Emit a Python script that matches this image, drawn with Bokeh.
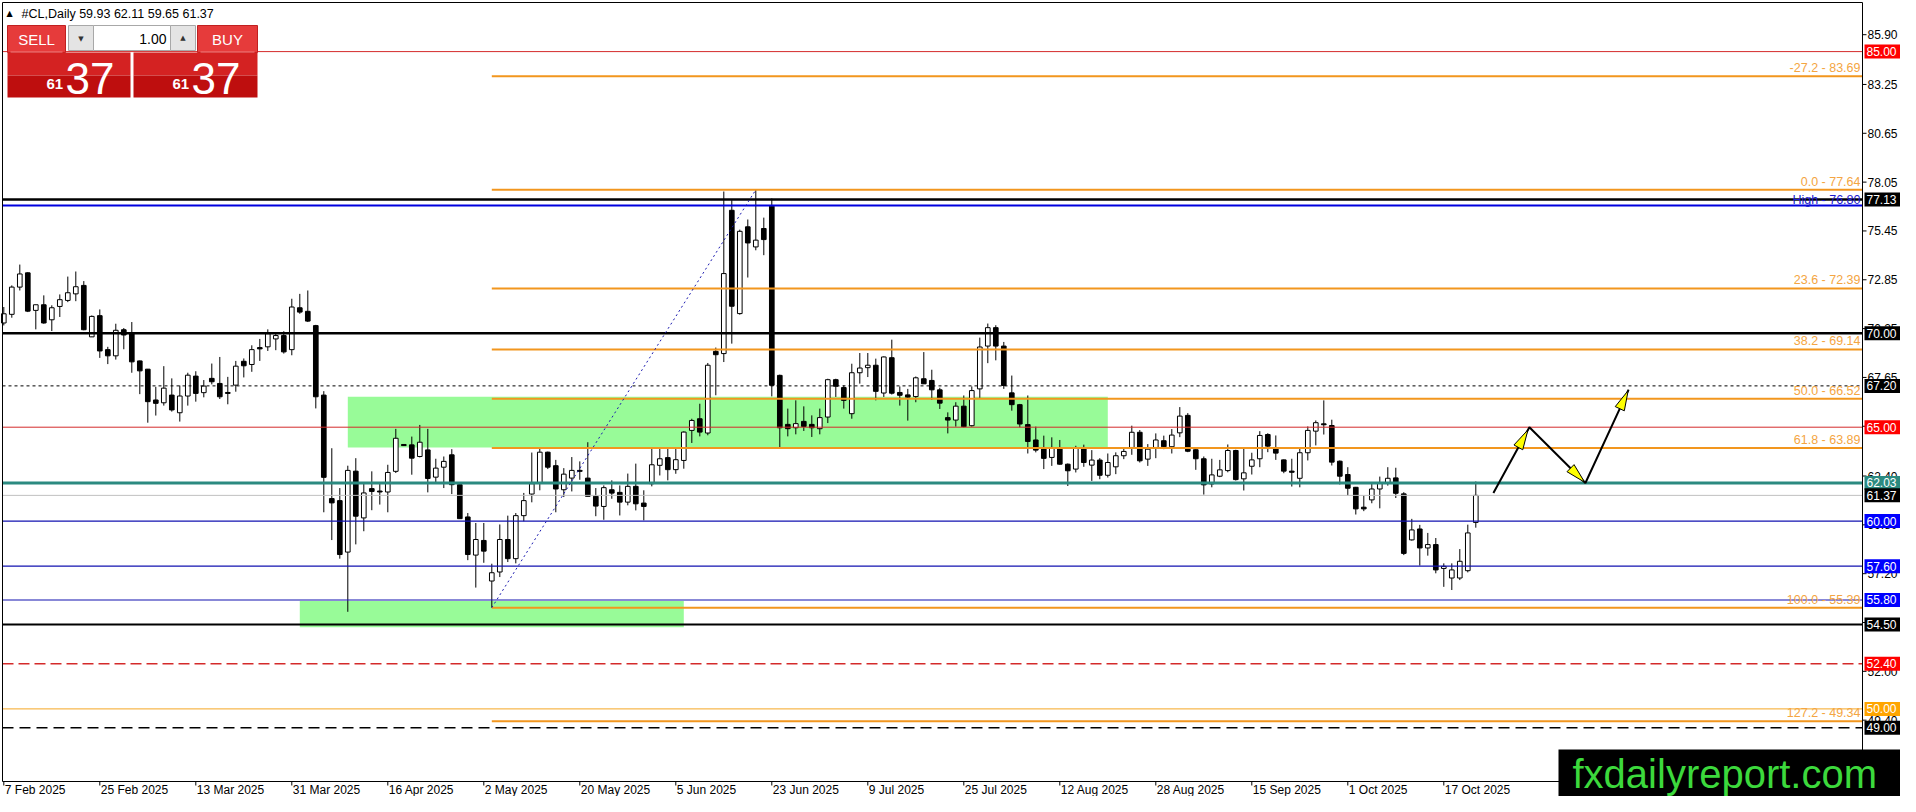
import math
from bokeh.plotting import figure
from bokeh.models import Range1d
from bokeh.embed import file_html
from bokeh.resources import INLINE
from bokeh.core.properties import value

# ---------------- data ----------------
opens = [70.55, 71.01, 72.46, 73.22, 71.22, 71.52, 70.72, 71.43, 71.75, 72.10, 72.55, 69.81, 70.94, 69.13, 68.80,
         70.19, 69.98, 68.53, 68.09, 66.45, 66.30, 66.71, 65.77, 66.66, 67.72, 66.84, 67.60, 67.33, 66.85, 67.24,
         68.51, 68.34, 69.24, 69.28, 69.70, 69.88, 69.13, 71.36, 71.17, 70.41, 66.71, 61.20, 61.09, 58.35, 62.66,
         60.17, 61.73, 61.60, 61.55, 62.65, 64.08, 64.06, 63.44, 63.79, 62.34, 62.87, 63.53, 61.94, 60.22, 58.19,
         58.97, 56.81, 57.29, 59.02, 58.00, 60.29, 61.44, 62.03, 63.67, 62.95, 61.67, 62.29, 62.70, 62.29, 61.32,
         60.78, 61.67, 61.53, 61.01, 61.85, 60.96, 61.99, 62.97, 63.38, 62.74, 63.23, 64.83, 65.45, 64.69, 69.04,
         68.92, 76.55, 71.05, 75.67, 74.60, 75.58, 76.77, 67.76, 65.15, 64.97, 65.31, 65.15, 64.92, 65.54, 67.53,
         67.11, 65.72, 67.90, 68.17, 68.30, 66.82, 68.70, 66.85, 66.72, 66.63, 67.58, 67.49, 66.99, 65.51, 65.38,
         66.12, 65.08, 67.04, 69.32, 70.30, 69.32, 66.83, 66.20, 65.14, 64.32, 63.87, 63.39, 63.87, 63.03, 62.77,
         63.87, 62.98, 63.25, 62.44, 62.89, 63.48, 63.92, 64.73, 63.30, 63.92, 64.28, 63.96, 64.70, 65.63, 63.80,
         63.32, 61.98, 62.39, 62.69, 63.76, 62.25, 62.92, 63.32, 64.61, 63.85, 63.26, 62.66, 62.28, 63.64, 64.79,
         65.18, 65.09, 63.19, 62.48, 61.80, 60.74, 61.13, 61.71, 62.02, 62.30, 61.45, 59.00, 59.58, 58.57, 58.75,
         57.48, 56.97, 56.97, 57.36, 59.93]
highs = [71.40, 72.55, 73.66, 73.25, 71.52, 72.02, 71.49, 72.07, 73.02, 73.29, 72.78, 70.95, 71.27, 69.28, 70.51,
         70.28, 70.60, 68.55, 68.10, 67.15, 68.25, 67.60, 67.22, 67.90, 67.98, 67.51, 68.39, 68.74, 67.68, 68.53,
         68.66, 69.36, 69.70, 70.21, 70.05, 70.11, 71.84, 72.10, 72.28, 70.45, 66.92, 63.88, 61.76, 62.95, 63.35,
         61.99, 62.65, 62.06, 63.00, 64.91, 64.10, 64.50, 65.12, 64.91, 63.32, 63.44, 63.83, 62.03, 60.43, 59.90,
         59.90, 57.73, 59.82, 60.29, 60.43, 61.50, 63.65, 63.88, 63.70, 63.26, 62.82, 63.41, 63.18, 64.20, 61.76,
         61.90, 62.17, 61.90, 62.53, 63.06, 61.64, 63.89, 63.89, 63.89, 63.86, 64.78, 65.45, 66.25, 68.42, 69.24,
         77.55, 77.09, 75.52, 76.06, 77.64, 76.16, 77.18, 67.80, 65.99, 66.43, 66.11, 65.63, 65.99, 67.58, 67.58,
         67.23, 68.38, 68.95, 68.95, 68.65, 68.77, 69.66, 67.17, 67.04, 67.70, 69.00, 68.06, 67.10, 65.79, 66.33,
         66.69, 67.17, 69.77, 70.52, 70.43, 69.54, 67.75, 66.24, 66.69, 65.03, 64.55, 64.46, 64.32, 63.07, 64.01,
         64.07, 63.78, 63.35, 63.60, 63.66, 63.92, 65.08, 64.85, 64.10, 64.67, 64.55, 64.90, 66.07, 65.75, 63.82,
         63.44, 63.32, 63.26, 64.08, 63.80, 63.90, 63.64, 64.79, 64.68, 64.56, 63.28, 63.32, 63.85, 65.04, 65.36,
         66.43, 65.40, 63.23, 62.87, 61.82, 61.36, 62.02, 62.37, 62.87, 62.84, 61.54, 60.12, 59.80, 59.37, 59.10,
         57.75, 57.75, 58.51, 59.81, 62.11]
lows = [70.42, 70.83, 72.28, 71.13, 70.21, 70.51, 70.12, 70.87, 71.66, 71.71, 70.16, 69.81, 68.69, 68.36, 68.60,
        69.15, 67.90, 66.76, 65.24, 65.62, 66.15, 65.83, 65.30, 66.15, 66.36, 66.59, 67.28, 66.50, 66.22, 66.89,
        67.65, 67.95, 68.53, 69.06, 69.10, 68.92, 68.83, 71.04, 70.60, 66.00, 60.47, 58.99, 58.00, 55.17, 58.76,
        59.46, 60.58, 60.88, 60.47, 62.56, 64.00, 62.47, 63.39, 61.53, 61.99, 61.76, 61.44, 60.13, 57.92, 56.46,
        57.78, 55.39, 57.02, 57.82, 57.75, 59.99, 61.00, 61.64, 62.77, 60.47, 61.28, 61.58, 62.20, 61.32, 60.26,
        60.07, 61.19, 60.30, 60.84, 60.57, 60.04, 61.85, 62.43, 62.17, 62.52, 62.79, 64.16, 64.51, 64.57, 66.70,
        68.47, 69.45, 70.99, 72.97, 74.42, 74.16, 66.64, 63.94, 64.51, 64.62, 64.80, 64.48, 64.62, 65.22, 66.61,
        65.99, 65.45, 67.32, 67.67, 66.43, 66.61, 66.74, 66.15, 65.35, 66.33, 67.31, 66.45, 65.97, 64.67, 65.03,
        64.99, 65.03, 66.56, 68.41, 68.56, 67.04, 65.88, 64.99, 63.60, 63.66, 62.77, 62.94, 63.00, 61.87, 62.59,
        62.89, 62.14, 62.23, 62.32, 62.50, 63.30, 63.53, 63.12, 62.94, 63.35, 63.83, 63.60, 64.47, 63.67, 62.73,
        61.41, 61.80, 62.34, 62.60, 62.16, 61.63, 62.48, 62.87, 63.67, 63.26, 62.55, 61.84, 61.80, 63.23, 64.03,
        64.61, 62.96, 61.95, 61.36, 60.35, 60.53, 60.95, 60.68, 61.89, 61.23, 58.19, 58.96, 57.63, 58.16, 57.22,
        56.50, 56.33, 56.86, 57.27, 59.65]
closes = [71.04, 72.46, 73.16, 71.18, 71.52, 70.55, 71.36, 71.79, 72.16, 72.48, 70.19, 70.90, 69.06, 68.80, 70.16,
          69.91, 68.48, 68.00, 66.36, 66.27, 67.08, 65.92, 66.66, 67.77, 66.80, 67.19, 67.42, 66.62, 66.80, 68.25,
          68.27, 69.13, 69.17, 69.98, 69.88, 69.01, 71.40, 71.13, 70.65, 66.62, 62.33, 60.97, 58.22, 62.70, 60.26,
          61.50, 61.58, 61.55, 62.59, 64.41, 64.02, 63.35, 64.20, 62.27, 62.82, 63.18, 61.94, 60.13, 58.22, 59.02,
          58.40, 57.25, 59.02, 58.00, 60.29, 61.09, 61.99, 63.67, 62.87, 61.71, 62.50, 62.70, 62.65, 61.32, 60.80,
          61.78, 61.49, 61.01, 61.85, 60.92, 60.78, 63.00, 63.32, 62.74, 63.27, 64.74, 65.36, 64.74, 68.30, 68.86,
          73.18, 71.44, 75.43, 74.81, 74.96, 74.99, 67.23, 64.97, 64.92, 65.19, 65.04, 64.97, 65.51, 67.53, 67.18,
          66.43, 67.90, 68.15, 68.30, 66.91, 68.74, 66.81, 66.70, 66.60, 67.63, 67.31, 66.99, 66.28, 65.38, 66.12,
          65.03, 66.95, 69.27, 70.30, 69.32, 67.22, 66.20, 65.17, 64.24, 63.78, 63.34, 63.92, 63.03, 62.68, 63.87,
          63.12, 63.25, 62.44, 63.12, 63.48, 63.71, 64.73, 63.21, 63.83, 64.32, 63.96, 64.58, 65.59, 63.72, 63.32,
          61.93, 62.46, 62.73, 63.76, 62.21, 62.57, 63.26, 64.56, 63.99, 63.62, 62.66, 62.60, 63.64, 64.83, 65.24,
          65.13, 63.14, 62.39, 61.75, 60.65, 60.65, 61.71, 62.02, 62.28, 61.48, 58.28, 59.53, 58.57, 58.75, 57.40,
          57.59, 57.40, 57.86, 59.37, 61.37]

date_tick_idx = [0, 12, 24, 36, 48, 60, 72, 84, 96, 108, 120, 132, 144, 156, 168, 180]
date_tick_labels = ["7 Feb 2025", "25 Feb 2025", "13 Mar 2025", "31 Mar 2025", "16 Apr 2025", "2 May 2025",
                    "20 May 2025", "5 Jun 2025", "23 Jun 2025", "9 Jul 2025", "25 Jul 2025", "12 Aug 2025",
                    "28 Aug 2025", "15 Sep 2025", "1 Oct 2025", "17 Oct 2025"]
price_ticks = [85.90, 83.25, 80.65, 78.05, 75.45, 72.85, 70.25, 67.65, 65.05, 62.40, 59.80, 57.20, 54.60,
               52.00, 49.40, 46.80]

level_prices = [85.00, 77.13, 76.80, 70.00, 67.20, 65.00, 62.03, 61.37, 60.00, 57.60, 55.80, 54.50, 52.40,
                50.00, 49.00]
tag_prices = [85.00, 77.13, 70.00, 67.20, 65.00, 62.03, 61.37, 60.00, 57.60, 55.80, 54.50, 52.40, 50.00, 49.00]

fib_start_idx, fib_end_idx = 61, 94
fib_low, fib_high = 55.39, 77.64
fib_pcts = [-27.2, 0.0, 23.6, 38.2, 50.0, 61.8, 100.0, 127.2]
fib_prices = [83.69, 77.64, 72.39, 69.14, 66.52, 63.89, 55.39, 49.34]
high_mark = 76.80

zone_left = [43, 37]
zone_right = [138, 85]
zone_top = [66.62, 55.75]
zone_bottom = [63.92, 54.35]

arrow_x = [186.2, 190.7, 197.7, 203.1]
arrow_y = [61.50, 65.00, 62.03, 67.00]

# ---------------- layout helpers (screenshot pixel -> data) ----------------
W, H = 1900, 796


def dx(ref_x):
    return (ref_x - 3.3) / 8.0


def dy(ref_y):
    return 70.0 - (ref_y - 332.8) / 18.78


X_LO, X_HI = dx(0), dx(W)
Y_LO, Y_HI = dy(H), dy(0)
PX_X = W / (X_HI - X_LO)
PX_Y = H / (Y_HI - Y_LO)
AX_X = dx(1862)          # price axis position
AX_Y = dy(781)           # time axis position
LEFT_X = dx(2)
TOP_Y = dy(2)
FONT = "Liberation Sans"

p = figure(width=W, height=H, x_range=Range1d(X_LO, X_HI), y_range=Range1d(Y_LO, Y_HI),
           output_backend="svg", toolbar_location=None,
           min_border_left=0, min_border_right=0, min_border_top=0, min_border_bottom=0)
p.xaxis.visible = False
p.yaxis.visible = False
p.grid.visible = False
p.outline_line_color = None
p.background_fill_color = "white"
p.border_fill_color = "white"

# zones (background)
p.quad(left=zone_left, right=zone_right, top=zone_top, bottom=zone_bottom,
       fill_color="#98FB98", line_color=None)

# candles
n = len(closes)
xs = list(range(n))
p.segment(x0=xs, y0=highs, x1=xs, y1=lows, line_color="black", line_width=1)
body_top = [max(o, c) for o, c in zip(opens, closes)]
body_bot = [min(o, c) for o, c in zip(opens, closes)]
body_fill = ["white" if c >= o else "black" for o, c in zip(opens, closes)]
p.vbar(x=xs, width=0.58, top=body_top, bottom=body_bot, fill_color=body_fill,
       line_color="black", line_width=1)

# horizontal levels
level_style = {
    85.00: ("#D42A2A", 1, "solid"),
    77.13: ("black", 2.5, "solid"),
    76.80: ("#0000E0", 2, "solid"),
    70.00: ("black", 2.5, "solid"),
    67.20: ("black", 1, "3 3"),
    65.00: ("#D42A2A", 1, "solid"),
    62.03: ("#2B8A80", 3, "solid"),
    61.37: ("#C0C0C0", 1, "solid"),
    60.00: ("#1212B0", 1.2, "solid"),
    57.60: ("#1212B0", 1.2, "solid"),
    55.80: ("#1212B0", 1.2, "solid"),
    54.50: ("black", 2, "solid"),
    52.40: ("#D42A2A", 1.5, "11 5"),
    50.00: ("#F5A623", 1, "solid"),
    49.00: ("black", 1.5, "11 6"),
}
for lv in level_prices:
    col, w, dash = level_style[lv]
    p.segment(x0=[LEFT_X], y0=[lv], x1=[AX_X], y1=[lv], line_color=col, line_width=w, line_dash=dash)

# fibonacci
fib_col = "#F2961E"
p.segment(x0=[fib_start_idx] * len(fib_prices), y0=fib_prices, x1=[AX_X] * len(fib_prices), y1=fib_prices,
          line_color=fib_col, line_width=2)
p.line([fib_start_idx, fib_end_idx], [fib_low, fib_high], line_color="#1A1AB0", line_width=1, line_dash="2 3")
p.text(x=[AX_X] * len(fib_prices), y=fib_prices,
       text=[f"{pc:.1f} - {pr:.2f}" for pc, pr in zip(fib_pcts, fib_prices)],
       text_align="right", text_baseline="bottom", x_offset=-2, y_offset=-1,
       text_color="#F4A542", text_font=value(FONT), text_font_size="12.5px")
p.text(x=[AX_X], y=[high_mark], text=[f"High - {high_mark:.2f}"], text_align="right", text_baseline="bottom",
       x_offset=-2, y_offset=1, text_color="#1A1AD0", text_font=value(FONT), text_font_size="12.5px")

# forecast arrows
p.line(arrow_x, arrow_y, line_color="black", line_width=2)
hx, hy = [], []
for k in range(len(arrow_x) - 1):
    x0, y0, x1, y1 = arrow_x[k], arrow_y[k], arrow_x[k + 1], arrow_y[k + 1]
    ux, uy = (x1 - x0) * PX_X, (y1 - y0) * PX_Y
    L = math.hypot(ux, uy)
    ux, uy = ux / L, uy / L
    back = 3 if k == 0 else 1
    tx, ty = x1 - back * ux / PX_X, y1 - back * uy / PX_Y
    bx, by = tx - 20 * ux / PX_X, ty - 20 * uy / PX_Y
    px_, py_ = -uy * 5, ux * 5
    hx.append([tx, bx + px_ / PX_X, bx - px_ / PX_X])
    hy.append([ty, by + py_ / PX_Y, by - py_ / PX_Y])
p.patches(hx, hy, fill_color="#FFFF00", line_color="black", line_width=1)

# chart frame and axes
p.segment(x0=[LEFT_X, LEFT_X, AX_X, LEFT_X], y0=[TOP_Y, TOP_Y, TOP_Y, AX_Y],
          x1=[LEFT_X, AX_X, AX_X, AX_X], y1=[AX_Y, TOP_Y, AX_Y, AX_Y], line_color="black", line_width=1)
# price axis ticks and labels
p.segment(x0=[AX_X] * len(price_ticks), y0=price_ticks, x1=[AX_X + 4 / PX_X] * len(price_ticks), y1=price_ticks,
          line_color="black", line_width=1)
p.text(x=[AX_X] * len(price_ticks), y=price_ticks, text=[f"{t:.2f}" for t in price_ticks], x_offset=5,
       text_align="left", text_baseline="middle", text_color="black", text_font=value(FONT),
       text_font_size="12px")
# time axis ticks and labels
p.segment(x0=date_tick_idx, y0=[AX_Y] * len(date_tick_idx), x1=date_tick_idx,
          y1=[AX_Y - 4 / PX_Y] * len(date_tick_idx), line_color="black", line_width=1)
p.text(x=date_tick_idx, y=[dy(789)] * len(date_tick_idx), text=date_tick_labels, x_offset=1,
       text_align="left", text_baseline="middle", text_color="black", text_font=value(FONT),
       text_font_size="12px")

# price tags on the axis
tag_colors = {85.00: "#FF0000", 77.13: "black", 70.00: "black", 67.20: "black", 65.00: "#FF0000",
              62.03: "#2B8A80", 61.37: "black", 60.00: "#0000FF", 57.60: "#0000FF", 55.80: "#0000FF",
              54.50: "black", 52.40: "#FF0000", 50.00: "#FFA500", 49.00: "black"}
p.quad(left=[AX_X + 2 / PX_X] * len(tag_prices), right=[X_HI] * len(tag_prices),
       top=[t + 7 / PX_Y for t in tag_prices], bottom=[t - 7 / PX_Y for t in tag_prices],
       fill_color=[tag_colors[t] for t in tag_prices], line_color=None)
p.text(x=[AX_X] * len(tag_prices), y=tag_prices, text=[f"{t:.2f}" for t in tag_prices], x_offset=4,
       text_align="left", text_baseline="middle", text_color="white", text_font=value(FONT),
       text_font_size="12px")

# header
last_o, last_h, last_l, last_c = opens[-1], highs[-1], lows[-1], closes[-1]
p.text(x=[dx(6)], y=[dy(13)], text=["\u25b2"], text_font=value("DejaVu Sans"), text_font_size="8px",
       text_baseline="middle", text_color="black")
p.text(x=[dx(21)], y=[dy(13)], text=[f"#CL,Daily  {last_o:.2f} {last_h:.2f} {last_l:.2f} {last_c:.2f}"],
       text_font=value(FONT), text_font_size="12.5px", text_baseline="middle", text_color="black")

# trade panel
p.quad(left=[dx(7), dx(197)], right=[dx(65), dx(257)], top=[dy(25), dy(25)], bottom=[dy(52), dy(52)],
       fill_color="#E63B3B", line_color="#C02020", line_width=1)
p.quad(left=[dx(7), dx(133)], right=[dx(130), dx(257)], top=[dy(52), dy(52)], bottom=[dy(75), dy(75)],
       fill_color="#D42222", line_color=None)
p.quad(left=[dx(7), dx(133)], right=[dx(130), dx(257)], top=[dy(75), dy(75)], bottom=[dy(97), dy(97)],
       fill_color="#BE0E0E", line_color=None)
p.segment(x0=[dx(10), dx(200)], y0=[dy(51.5), dy(51.5)], x1=[dx(62), dx(254)], y1=[dy(51.5), dy(51.5)],
          line_color="#F08080", line_width=1)
p.quad(left=[dx(68), dx(93), dx(170)], right=[dx(93), dx(170), dx(195)], top=[dy(25)] * 3,
       bottom=[dy(50)] * 3, fill_color=["#E4E4E4", "white", "#E4E4E4"], line_color="#A8A8A8", line_width=1)
p.text(x=[dx(80.5), dx(182.5)], y=[dy(38), dy(37)], text=["\u25bc", "\u25b2"], text_font=value("DejaVu Sans"),
       text_font_size="7px", text_align="center", text_baseline="middle", text_color="#333333")
p.text(x=[dx(166)], y=[dy(38)], text=["1.00"], text_font=value(FONT), text_font_size="14px",
       text_align="right", text_baseline="middle", text_color="black")
p.text(x=[dx(36), dx(227)], y=[dy(39), dy(39)], text=["SELL", "BUY"], text_font=value(FONT),
       text_font_size="15px", text_align="center", text_baseline="middle", text_color="white")
big = f"{last_c:.2f}"
p.text(x=[dx(46), dx(172)], y=[dy(83), dy(83)], text=[big[:2], big[:2]], text_font=value(FONT),
       text_font_size="15px", text_font_style="bold", text_baseline="middle", text_color="white")
p.text(x=[dx(65), dx(191)], y=[dy(78), dy(78)], text=[big[3:], big[3:]], text_font=value(FONT),
       text_font_size="44px", text_baseline="middle", text_color="white")

# watermark
p.quad(left=[dx(1558)], right=[X_HI], top=[dy(749)], bottom=[Y_LO], fill_color="black", line_color=None)
p.text(x=[dx(1572)], y=[dy(773)], text=["fxdailyreport.com"], text_color="#3CD93C",
       text_font=value(FONT), text_font_size="40px", text_baseline="middle", text_align="left")

open("out.html", "w").write(file_html(p, INLINE))
